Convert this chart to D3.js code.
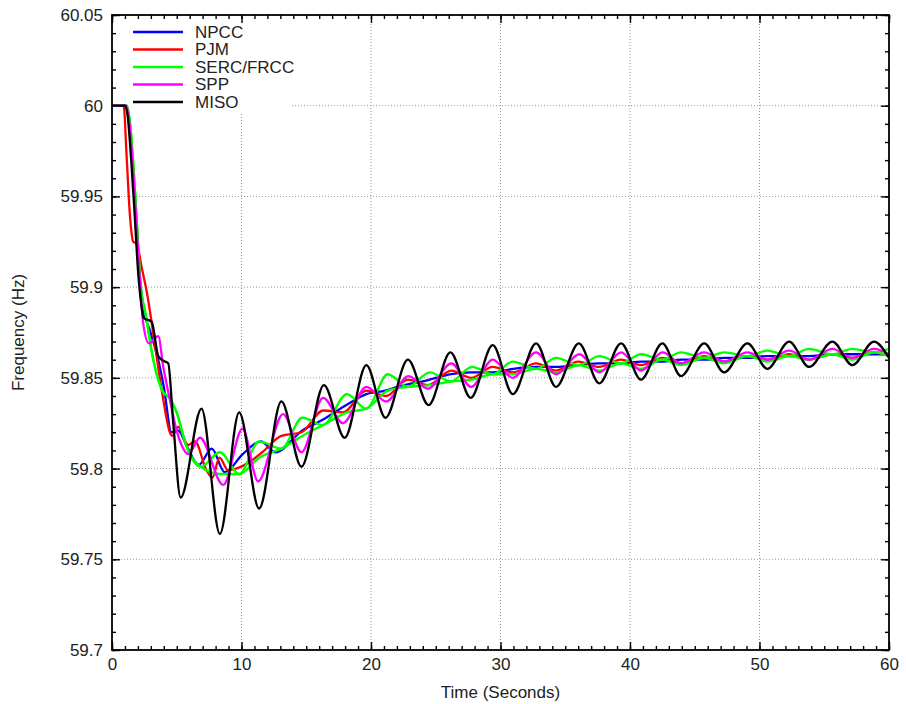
<!DOCTYPE html>
<html>
<head>
<meta charset="utf-8">
<script src="https://cdn.jsdelivr.net/npm/d3@7"></script>
<style>
  body { margin: 0; background: #fff; }
  text { font-family: "Liberation Sans", Arial, sans-serif; fill: #222; }
</style>
</head>
<body>
<svg id="chart" width="906" height="704"></svg>
<script>
// values: [time (s), frequency (Hz)]
const npcc = [[0,60],[1.1,60],[1.35,59.99],[1.6,59.968],[1.85,59.94],[2.1,59.91],[2.41,59.889],[2.93,59.876],[3.5,59.862],[4.0,59.845],[4.6,59.820],[5.1,59.821],[5.8,59.812],[6.7,59.802],[7.7,59.811],[8.7,59.798],[10.1,59.808],[11.5,59.815],[12.6,59.809],[14.7,59.821],[16.3,59.827],[18.1,59.835],[19.64,59.841],[21.1,59.843],[22.5,59.846],[24.0,59.848],[26.2,59.852],[27.7,59.853],[29.4,59.853],[31,59.855],[32.75,59.856],[34.3,59.856],[36,59.857],[37.6,59.858],[39.3,59.858],[40.9,59.859],[42.5,59.859],[44,59.860],[45.7,59.860],[47.3,59.861],[49.1,59.861],[50.6,59.862],[52.3,59.862],[53.8,59.862],[55.6,59.863],[57.2,59.863],[58.8,59.863],[60,59.863]];

const pjm = [[0,60],[0.9,60],[1.13,59.972],[1.39,59.939],[1.64,59.925],[1.9,59.924],[2.29,59.911],[2.67,59.898],[3.44,59.862],[3.96,59.838],[4.47,59.820],[4.65,59.818],[5.11,59.823],[5.88,59.813],[6.4,59.815],[7.3,59.799],[7.75,59.795],[8.3,59.806],[8.97,59.799],[9.6,59.800],[10.9,59.805],[11.6,59.809],[13.08,59.818],[14.63,59.820],[16.3,59.832],[17.84,59.831],[19.64,59.843],[21.18,59.840],[22.85,59.849],[24.4,59.846],[26.2,59.854],[27.74,59.850],[29.4,59.856],[30.95,59.853],[32.75,59.858],[34.29,59.854],[36.0,59.859],[37.6,59.856],[39.3,59.860],[40.85,59.857],[42.5,59.861],[43.94,59.858],[45.73,59.862],[47.27,59.859],[49.07,59.862],[50.61,59.860],[52.29,59.863],[53.83,59.860],[55.63,59.863],[57.17,59.861],[58.84,59.864],[60,59.862]];

const serc = [[0,60],[1.15,60],[1.4,59.99],[1.7,59.962],[1.95,59.932],[2.2,59.902],[2.6,59.885],[3.19,59.860],[3.96,59.842],[4.45,59.839],[4.99,59.831],[5.76,59.812],[6.85,59.801],[8.33,59.809],[9.82,59.797],[11.36,59.815],[13.08,59.811],[14.7,59.828],[16.3,59.824],[18.15,59.841],[19.64,59.833],[21.3,59.852],[22.85,59.845],[24.55,59.853],[26.15,59.848],[27.8,59.856],[29.4,59.852],[30.95,59.859],[32.75,59.855],[34.29,59.861],[36.05,59.857],[37.63,59.862],[39.31,59.858],[40.85,59.863],[42.5,59.860],[43.94,59.864],[45.73,59.861],[47.27,59.864],[49.07,59.862],[50.61,59.865],[52.29,59.862],[53.83,59.866],[55.63,59.863],[57.17,59.866],[58.84,59.864],[60,59.866]];

const frcc = [[0,60],[1.15,60],[1.4,59.99],[1.7,59.962],[1.95,59.932],[2.2,59.902],[2.6,59.885],[3.19,59.860],[3.96,59.842],[4.45,59.839],[4.99,59.831],[5.76,59.812],[6.85,59.801],[8.33,59.797],[9.82,59.797],[11.36,59.806],[13.08,59.811],[14.7,59.818],[16.3,59.824],[18.15,59.831],[19.64,59.833],[21.3,59.843],[22.85,59.845],[24.55,59.846],[26.15,59.848],[27.8,59.849],[29.4,59.852],[30.95,59.852],[32.75,59.855],[34.29,59.853],[36.05,59.857],[37.63,59.854],[39.31,59.858],[40.85,59.855],[42.5,59.860],[43.94,59.857],[45.73,59.861],[47.27,59.858],[49.07,59.862],[50.61,59.859],[52.29,59.862],[53.83,59.860],[55.63,59.863],[57.17,59.860],[58.84,59.864],[60,59.862]];

const spp = [[0,60],[1.1,60],[1.35,59.99],[1.6,59.968],[1.85,59.94],[2.1,59.91],[2.41,59.880],[2.85,59.869],[3.57,59.873],[3.96,59.856],[4.47,59.838],[4.99,59.821],[5.37,59.813],[5.89,59.808],[6.79,59.817],[8.59,59.791],[10.08,59.822],[11.28,59.793],[13.21,59.830],[14.63,59.809],[16.3,59.839],[17.84,59.825],[19.64,59.845],[21.18,59.837],[22.9,59.851],[24.4,59.844],[26.2,59.858],[27.74,59.845],[29.4,59.860],[30.95,59.850],[32.75,59.864],[34.29,59.852],[36.09,59.863],[37.63,59.853],[39.31,59.864],[40.85,59.854],[42.52,59.864],[43.94,59.858],[45.73,59.864],[47.27,59.859],[49.07,59.864],[50.61,59.860],[52.29,59.865],[53.83,59.860],[55.63,59.866],[57.17,59.861],[58.84,59.866],[60,59.863]];

const miso = [[0,60],[1.0,60],[1.2,59.995],[1.5,59.968],[1.75,59.94],[2.0,59.91],[2.25,59.891],[2.45,59.883],[3.06,59.881],[3.57,59.862],[3.83,59.860],[4.34,59.858],[4.73,59.825],[5.3,59.784],[6.91,59.833],[8.33,59.764],[9.82,59.831],[11.36,59.778],[13.08,59.837],[14.63,59.801],[16.36,59.846],[17.97,59.817],[19.64,59.857],[21.12,59.828],[22.85,59.860],[24.45,59.835],[26.13,59.864],[27.7,59.839],[29.4,59.868],[30.95,59.841],[32.75,59.869],[34.29,59.845],[36.05,59.869],[37.63,59.847],[39.31,59.869],[40.85,59.849],[42.5,59.869],[43.94,59.851],[45.73,59.869],[47.27,59.853],[49.07,59.869],[50.61,59.855],[52.29,59.870],[53.83,59.856],[55.63,59.870],[57.17,59.857],[58.84,59.870],[60,59.861]];

const xTicks = [0, 10, 20, 30, 40, 50, 60];
const yTicks = [59.7, 59.75, 59.8, 59.85, 59.9, 59.95, 60, 60.05];
const legendNames = ["NPCC", "PJM", "SERC/FRCC", "SPP", "MISO"];
const legendColors = ["#0000ff", "#ff0000", "#00ff00", "#ff00ff", "#000000"];

// series drawn in plot order; SERC and FRCC share the green legend entry
const series = [
  {data: npcc, color: legendColors[0]},
  {data: pjm, color: legendColors[1]},
  {data: serc, color: legendColors[2]},
  {data: frcc, color: legendColors[2]},
  {data: spp, color: legendColors[3]},
  {data: miso, color: legendColors[4]}
];

const margin = {top: 15, right: 17, bottom: 54, left: 112};
const svg = d3.select('#chart');
const W = +svg.attr('width'), H = +svg.attr('height');
const w = W - margin.left - margin.right;
const h = H - margin.top - margin.bottom;

const x = d3.scaleLinear().domain([0, 60]).range([0, w]);
const y = d3.scaleLinear().domain([59.7, 60.05]).range([h, 0]);

const g = svg.append('g').attr('transform', `translate(${margin.left},${margin.top})`);

g.append('clipPath').attr('id', 'clip')
  .append('rect').attr('width', w).attr('height', h);

// dotted grid
g.append('g').selectAll('line')
  .data(xTicks.slice(1, -1)).enter().append('line')
  .attr('x1', d => x(d)).attr('x2', d => x(d))
  .attr('y1', 0).attr('y2', h)
  .attr('stroke', '#999').attr('stroke-width', 1).attr('stroke-dasharray', '1,2');
g.append('g').selectAll('line')
  .data(yTicks.slice(1, -1)).enter().append('line')
  .attr('y1', d => y(d)).attr('y2', d => y(d))
  .attr('x1', 0).attr('x2', w)
  .attr('stroke', '#999').attr('stroke-width', 1).attr('stroke-dasharray', '1,2');

// opaque key box
g.append('rect').attr('x', 1).attr('y', 1).attr('width', 178).attr('height', 97).attr('fill', '#fff');

// ticks (inward on all four sides)
const minorX = d3.range(0, 61, 1);
const minorY = d3.range(0, 36).map(i => 59.7 + i * 0.01);

function tickAxis(axis, transform) {
  const a = g.append('g').attr('transform', transform).call(axis);
  a.select('.domain').remove();
  a.selectAll('line').attr('stroke', '#000').attr('stroke-width', 1.4);
  return a;
}
tickAxis(d3.axisBottom(x).tickValues(minorX).tickSize(-4).tickFormat(''), `translate(0,${h})`);
tickAxis(d3.axisTop(x).tickValues(minorX).tickSize(-4).tickFormat(''), 'translate(0,0)');
tickAxis(d3.axisLeft(y).tickValues(minorY).tickSize(-4).tickFormat(''), 'translate(0,0)');
tickAxis(d3.axisRight(y).tickValues(minorY).tickSize(-4).tickFormat(''), `translate(${w},0)`);
tickAxis(d3.axisTop(x).tickValues(xTicks).tickSize(-8).tickFormat(''), 'translate(0,0)');
tickAxis(d3.axisRight(y).tickValues(yTicks).tickSize(-8).tickFormat(''), `translate(${w},0)`);

const xAxis = tickAxis(d3.axisBottom(x).tickValues(xTicks).tickSize(-8).tickPadding(8).tickFormat(d3.format('d')), `translate(0,${h})`);
const yAxis = tickAxis(d3.axisLeft(y).tickValues(yTicks).tickSize(-8).tickPadding(9).tickFormat(d => String(+d.toFixed(2))), 'translate(0,0)');
xAxis.selectAll('text').attr('font-size', 17).attr('fill', '#222');
yAxis.selectAll('text').attr('font-size', 17).attr('fill', '#222');

// data lines
const line = d3.line()
  .x(d => x(d[0]))
  .y(d => y(d[1]))
  .curve(d3.curveMonotoneX);

g.append('g').attr('clip-path', 'url(#clip)')
  .selectAll('path').data(series).enter().append('path')
  .attr('d', d => line(d.data))
  .attr('fill', 'none')
  .attr('stroke', d => d.color)
  .attr('stroke-width', 2.3)
  .attr('stroke-linejoin', 'round');

// frame
g.append('rect').attr('width', w).attr('height', h)
  .attr('fill', 'none').attr('stroke', '#000').attr('stroke-width', 1.8);

// legend
const key = g.append('g').selectAll('g').data(legendNames).enter().append('g')
  .attr('transform', (d, i) => `translate(0,${17 + i * 17.5})`);
key.append('line').attr('x1', 21).attr('x2', 71)
  .attr('stroke', (d, i) => legendColors[i]).attr('stroke-width', 2.3);
key.append('text').attr('x', 83).attr('dy', '0.35em')
  .attr('font-size', 17).text(d => d);

// axis titles
svg.append('text')
  .attr('x', margin.left + w / 2).attr('y', 698)
  .attr('text-anchor', 'middle').attr('font-size', 17)
  .text('Time (Seconds)');
svg.append('text')
  .attr('transform', `translate(24,${margin.top + h / 2}) rotate(-90)`)
  .attr('text-anchor', 'middle').attr('font-size', 17)
  .text('Frequency (Hz)');
</script>
</body>
</html>
